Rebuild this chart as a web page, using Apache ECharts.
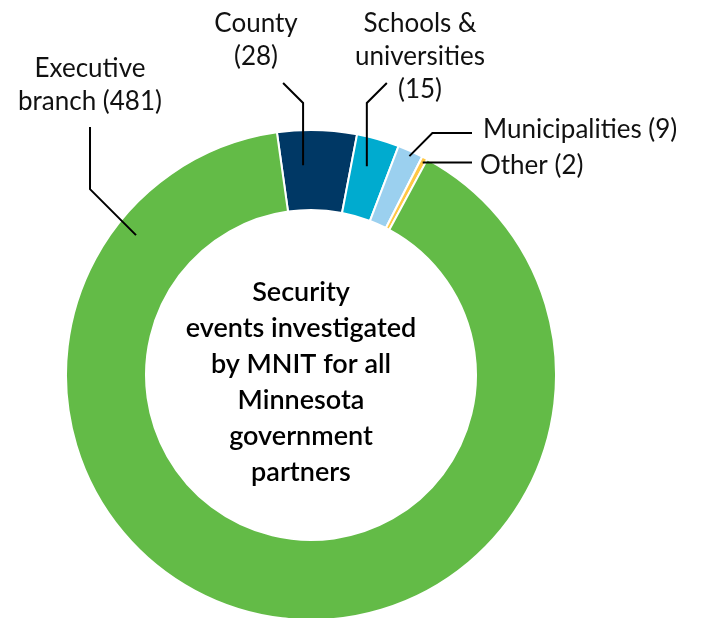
<!DOCTYPE html>
<html>
<head>
<meta charset="utf-8">
<script src="https://cdn.jsdelivr.net/npm/echarts@6/dist/echarts.min.js"></script>
<style>
html,body{margin:0;padding:0;background:#fff;}
#chart{width:705px;height:618px;}
</style>
</head>
<body>
<div id="chart"></div>
<script>
// ---- data ----
const categories = ['County', 'Schools & universities', 'Municipalities', 'Other', 'Executive branch'];
const values = [28, 15, 9, 2, 481];
const colors = ['#003865', '#00abcf', '#9bd0ef', '#ffc845', '#63bb47'];
const centerTitle = 'Security\nevents investigated\nby MNIT for all\nMinnesota\ngovernment\npartners';

// ---- layout (label placement / line breaks) ----
const CX = 311, CY = 375, R_IN = 165, R_OUT = 245, START = 98;
const labelBreaks = [
  {name: 'County', valueNewLine: true},
  {name: 'Schools &\nuniversities', valueNewLine: true},
  {name: 'Municipalities', valueNewLine: false},
  {name: 'Other', valueNewLine: false},
  {name: 'Executive\nbranch', valueNewLine: false}
];
const leader = [
  {t: 0.31, r: 210, path: s => [s, [s[0], 103], [s[0] - 20, 83]], label: {x: 256, y: 40, align: 'center'}},
  {t: 0.41, r: 216, path: s => [s, [s[0], 103], [s[0] + 20, 83]], label: {x: 420, y: 57, align: 'center'}},
  {t: 0.54, r: 240, path: s => [s, [s[0] + 23, s[1] - 23], [472, s[1] - 23]], label: {x: 483, y: 130, align: 'left'}},
  {t: 0.55, r: 240, path: s => [s, [472, s[1]]], label: {x: 480, y: 166, align: 'left'}},
  {t: 0.866, r: 224, path: s => [s, [s[0] - 46, s[1] - 46], [s[0] - 46, 127]], label: {x: 90, y: 85, align: 'center'}}
];

const total = values.reduce((a, b) => a + b, 0);
const cum = [];
values.reduce((acc, v, i) => { cum[i] = acc; return acc + v; }, 0);
function anchor(i) {
  const f = (cum[i] + values[i] * leader[i].t) / total;
  const th = (START - 360 * f) * Math.PI / 180;
  return [CX + leader[i].r * Math.cos(th), CY - leader[i].r * Math.sin(th)];
}

const guideLines = values.map((v, i) => ({
  type: 'polyline',
  z: 100,
  shape: {points: leader[i].path(anchor(i))},
  style: {stroke: '#000', lineWidth: 2, fill: null}
}));

const chart = echarts.init(document.getElementById('chart'));
chart.setOption({
  animation: false,
  series: [{
    type: 'pie',
    center: [CX, CY],
    radius: [R_IN, R_OUT],
    startAngle: START,
    clockwise: true,
    avoidLabelOverlap: false,
    data: categories.map((c, i) => ({name: c, value: values[i], itemStyle: {color: colors[i]}})),
    itemStyle: {borderColor: '#ffffff', borderWidth: 2},
    label: {
      show: true,
      position: 'outside',
      color: '#111',
      fontFamily: 'Lato',
      fontSize: 26,
      lineHeight: 33,
      formatter: p => {
        const b = labelBreaks[p.dataIndex];
        return b.name + (b.valueNewLine ? '\n' : ' ') + '(' + p.value + ')';
      }
    },
    labelLine: {show: false},
    labelLayout: params => {
      const L = leader[params.dataIndex];
      return {x: L.label.x, y: L.label.y, align: L.label.align, verticalAlign: 'middle'};
    },
    emphasis: {disabled: true}
  }],
  graphic: guideLines.concat([{
    type: 'text',
    x: 301, y: 382,
    z: 100,
    style: {
      text: centerTitle,
      fill: '#000',
      font: '600 27px Lato',
      align: 'center',
      verticalAlign: 'middle',
      lineHeight: 36
    }
  }])
});
</script>
</body>
</html>
